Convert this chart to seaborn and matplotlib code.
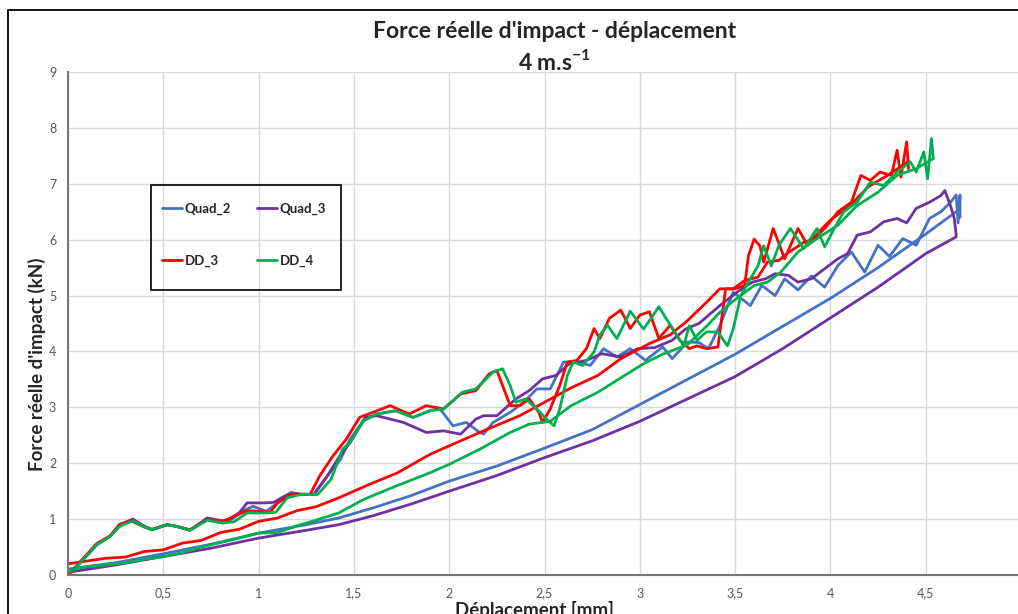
import matplotlib
matplotlib.use("Agg")
import matplotlib.pyplot as plt
import matplotlib.patches as mpatches
from matplotlib.lines import Line2D
import numpy as np
import pandas as pd
import seaborn as sns

# --- DATA ---
SERIES = ["Quad_2", "Quad_3", "DD_3", "DD_4"]
COLORS = {"Quad_2": "#4472C4", "Quad_3": "#7030A0", "DD_3": "#FF0000", "DD_4": "#00B050"}

XTICKS = [0, 0.5, 1, 1.5, 2, 2.5, 3, 3.5, 4, 4.5, 5]
XTICKLABELS = ["0", "0,5", "1", "1,5", "2", "2,5", "3", "3,5", "4", "4,5", "5"]
YTICKS = [0, 1, 2, 3, 4, 5, 6, 7, 8, 9]

# Quad_2 (blue) - loading branch (wavy) and lower branch (smooth)
quad2_up_x = [0, 0.03, 0.07, 0.15, 0.22, 0.27, 0.34, 0.40, 0.44, 0.52, 0.57, 0.64, 0.73, 0.81, 0.86,
              0.92, 0.97, 1.04, 1.10, 1.17, 1.22, 1.29, 1.36, 1.43, 1.48, 1.55, 1.62, 1.72, 1.81, 1.90,
              1.95, 2.02, 2.09, 2.16, 2.18, 2.23, 2.32, 2.39, 2.46, 2.53, 2.60, 2.67, 2.74, 2.81, 2.88,
              2.95, 3.03, 3.12, 3.17, 3.25, 3.31, 3.36, 3.42, 3.49, 3.58, 3.64, 3.71, 3.76, 3.83, 3.90,
              3.97, 4.04, 4.11, 4.18, 4.25, 4.31, 4.38, 4.45, 4.52, 4.58, 4.63, 4.66, 4.67, 4.68, 4.68]
quad2_up_y = [0.10, 0.12, 0.24, 0.54, 0.69, 0.87, 0.99, 0.87, 0.81, 0.90, 0.87, 0.80, 0.99, 0.93, 1.00,
              1.15, 1.23, 1.14, 1.29, 1.47, 1.44, 1.44, 1.77, 2.07, 2.43, 2.76, 2.88, 2.94, 2.82, 2.94,
              2.98, 2.67, 2.73, 2.55, 2.52, 2.73, 2.91, 3.09, 3.33, 3.33, 3.81, 3.81, 3.75, 4.05, 3.90,
              4.05, 3.84, 4.08, 3.87, 4.17, 4.16, 4.05, 4.46, 5.06, 4.82, 5.18, 5.00, 5.30, 5.10, 5.35,
              5.15, 5.54, 5.78, 5.42, 5.90, 5.70, 6.02, 5.90, 6.38, 6.50, 6.67, 6.80, 6.30, 6.80, 6.40]
quad2_dn_x = [0, 0.10, 0.25, 0.50, 0.75, 1.00, 1.25, 1.42, 1.60, 1.80, 2.00, 2.25, 2.50, 2.75, 3.00,
              3.25, 3.50, 3.75, 4.00, 4.25, 4.50, 4.66]
quad2_dn_y = [0.10, 0.15, 0.22, 0.38, 0.55, 0.75, 0.90, 1.02, 1.20, 1.42, 1.68, 1.95, 2.27, 2.60, 3.05,
              3.50, 3.95, 4.45, 4.95, 5.50, 6.10, 6.50]

# Quad_3 (purple)
quad3_up_x = [0, 0.03, 0.07, 0.15, 0.22, 0.27, 0.34, 0.40, 0.44, 0.52, 0.57, 0.64, 0.73, 0.81, 0.85,
              0.90, 0.94, 1.03, 1.08, 1.13, 1.17, 1.22, 1.29, 1.36, 1.42, 1.48, 1.56, 1.62, 1.76, 1.88,
              1.97, 2.06, 2.14, 2.18, 2.25, 2.35, 2.42, 2.49, 2.56, 2.63, 2.72, 2.80, 2.90, 2.99, 3.08,
              3.17, 3.24, 3.31, 3.42, 3.51, 3.59, 3.66, 3.71, 3.78, 3.83, 3.90, 3.97, 4.04, 4.09, 4.14,
              4.21, 4.28, 4.35, 4.40, 4.45, 4.52, 4.58, 4.60, 4.63, 4.65, 4.66]
quad3_up_y = [0.05, 0.10, 0.24, 0.54, 0.69, 0.90, 1.00, 0.87, 0.81, 0.90, 0.87, 0.80, 1.02, 0.97, 1.00,
              1.12, 1.29, 1.29, 1.30, 1.40, 1.47, 1.45, 1.44, 1.77, 2.10, 2.37, 2.82, 2.85, 2.73, 2.55,
              2.58, 2.52, 2.79, 2.85, 2.85, 3.15, 3.30, 3.51, 3.57, 3.78, 3.84, 3.96, 3.90, 4.05, 4.07,
              4.20, 4.40, 4.50, 4.82, 5.06, 5.24, 5.30, 5.39, 5.36, 5.24, 5.30, 5.48, 5.66, 5.75, 6.08,
              6.14, 6.32, 6.38, 6.30, 6.56, 6.67, 6.79, 6.88, 6.61, 6.38, 6.08]
quad3_dn_x = [0, 0.10, 0.25, 0.50, 0.75, 1.00, 1.25, 1.42, 1.60, 1.80, 2.00, 2.25, 2.50, 2.75, 3.00,
              3.25, 3.50, 3.75, 4.00, 4.25, 4.50, 4.66]
quad3_dn_y = [0.05, 0.10, 0.18, 0.33, 0.48, 0.66, 0.80, 0.90, 1.06, 1.27, 1.50, 1.78, 2.10, 2.40, 2.75,
              3.15, 3.55, 4.05, 4.60, 5.15, 5.75, 6.05]

# DD_3 (red)
dd3_up_x = [0, 0.03, 0.07, 0.15, 0.22, 0.27, 0.33, 0.40, 0.44, 0.52, 0.57, 0.64, 0.73, 0.81, 0.87,
            0.94, 1.01, 1.06, 1.10, 1.17, 1.27, 1.32, 1.39, 1.46, 1.53, 1.60, 1.69, 1.79, 1.88, 1.97,
            2.06, 2.14, 2.21, 2.25, 2.28, 2.32, 2.37, 2.42, 2.47, 2.49, 2.53, 2.58, 2.62, 2.67, 2.72,
            2.76, 2.79, 2.84, 2.90, 2.95, 3.00, 3.05, 3.10, 3.16, 3.21, 3.26, 3.30, 3.35, 3.41, 3.45,
            3.50, 3.55, 3.57, 3.60, 3.63, 3.65, 3.70, 3.76, 3.83, 3.88, 3.97, 4.04, 4.11, 4.16, 4.21,
            4.26, 4.32, 4.35, 4.37, 4.40, 4.41]
dd3_up_y = [0.00, 0.10, 0.26, 0.56, 0.70, 0.90, 0.97, 0.86, 0.82, 0.90, 0.87, 0.81, 0.99, 0.95, 1.05,
            1.15, 1.14, 1.12, 1.29, 1.44, 1.44, 1.77, 2.13, 2.43, 2.82, 2.91, 3.03, 2.88, 3.03, 2.97,
            3.24, 3.30, 3.60, 3.66, 3.39, 3.03, 3.03, 3.15, 2.91, 2.73, 2.97, 3.39, 3.81, 3.84, 4.05,
            4.41, 4.23, 4.59, 4.74, 4.41, 4.65, 4.71, 4.23, 4.47, 4.20, 4.05, 4.10, 4.05, 4.08, 5.12,
            5.12, 5.18, 5.71, 6.01, 5.89, 5.60, 6.20, 5.66, 6.20, 5.90, 6.20, 6.50, 6.67, 7.15, 7.06,
            7.21, 7.15, 7.60, 7.12, 7.75, 7.27]
dd3_dn_x = [0, 0.10, 0.20, 0.30, 0.40, 0.50, 0.60, 0.70, 0.80, 0.90, 1.00, 1.10, 1.20, 1.30, 1.42,
            1.58, 1.73, 1.90, 2.00, 2.16, 2.37, 2.50, 2.64, 2.78, 2.90, 3.05, 3.16, 3.25, 3.35, 3.42,
            3.49, 3.55, 3.62, 3.67, 3.73, 3.78, 3.86, 3.90, 4.00, 4.10, 4.20, 4.30, 4.41]
dd3_dn_y = [0.20, 0.25, 0.30, 0.32, 0.42, 0.45, 0.57, 0.62, 0.76, 0.82, 0.96, 1.02, 1.15, 1.22, 1.38,
            1.62, 1.83, 2.16, 2.31, 2.55, 2.85, 3.09, 3.35, 3.57, 3.87, 4.14, 4.30, 4.55, 4.88, 5.12,
            5.12, 5.27, 5.33, 5.60, 5.63, 5.77, 5.95, 6.00, 6.35, 6.60, 6.95, 7.15, 7.40]

# DD_4 (green)
dd4_up_x = [0, 0.03, 0.07, 0.15, 0.22, 0.27, 0.34, 0.40, 0.44, 0.52, 0.57, 0.64, 0.73, 0.81, 0.87,
            0.94, 1.03, 1.09, 1.15, 1.22, 1.31, 1.38, 1.44, 1.48, 1.55, 1.62, 1.72, 1.81, 1.90, 1.97,
            2.07, 2.14, 2.23, 2.28, 2.32, 2.35, 2.40, 2.46, 2.51, 2.55, 2.58, 2.62, 2.65, 2.70, 2.76,
            2.79, 2.83, 2.88, 2.95, 3.02, 3.10, 3.16, 3.23, 3.26, 3.30, 3.35, 3.41, 3.46, 3.49, 3.53,
            3.58, 3.62, 3.65, 3.69, 3.73, 3.79, 3.86, 3.93, 3.97, 4.02, 4.07, 4.14, 4.21, 4.28, 4.35,
            4.42, 4.45, 4.49, 4.51, 4.53, 4.54]
dd4_up_y = [0.05, 0.10, 0.24, 0.54, 0.69, 0.87, 0.97, 0.86, 0.81, 0.90, 0.87, 0.80, 0.98, 0.93, 0.95,
            1.11, 1.11, 1.12, 1.38, 1.44, 1.44, 1.71, 2.25, 2.37, 2.76, 2.88, 2.94, 2.82, 2.94, 2.97,
            3.27, 3.33, 3.63, 3.69, 3.39, 3.09, 3.15, 2.97, 2.79, 2.67, 2.97, 3.57, 3.81, 3.75, 3.99,
            4.29, 4.47, 4.23, 4.72, 4.40, 4.80, 4.47, 4.10, 4.46, 4.20, 4.35, 4.35, 4.10, 4.40, 5.00,
            5.30, 5.53, 5.89, 5.53, 5.90, 6.20, 5.84, 6.20, 5.87, 6.20, 6.50, 6.67, 7.03, 6.97, 7.21,
            7.39, 7.21, 7.57, 7.09, 7.81, 7.45]
dd4_dn_x = [0, 0.10, 0.20, 0.30, 0.40, 0.50, 0.60, 0.70, 0.80, 0.90, 1.00, 1.10, 1.20, 1.30, 1.42,
            1.55, 1.72, 1.90, 2.00, 2.16, 2.32, 2.42, 2.53, 2.64, 2.78, 2.92, 3.02, 3.12, 3.25, 3.35,
            3.42, 3.49, 3.60, 3.67, 3.74, 3.83, 3.93, 4.04, 4.14, 4.25, 4.35, 4.45, 4.54]
dd4_dn_y = [0.08, 0.15, 0.18, 0.22, 0.28, 0.33, 0.40, 0.50, 0.58, 0.66, 0.75, 0.76, 0.88, 0.98, 1.11,
            1.35, 1.59, 1.83, 1.98, 2.25, 2.55, 2.70, 2.75, 3.03, 3.27, 3.57, 3.78, 3.95, 4.12, 4.45,
            4.70, 4.90, 5.18, 5.24, 5.42, 5.78, 6.02, 6.26, 6.61, 6.85, 7.15, 7.27, 7.45]

branches = [
    ("Quad_2", "haut", quad2_up_x, quad2_up_y), ("Quad_2", "bas", quad2_dn_x, quad2_dn_y),
    ("Quad_3", "haut", quad3_up_x, quad3_up_y), ("Quad_3", "bas", quad3_dn_x, quad3_dn_y),
    ("DD_3", "haut", dd3_up_x, dd3_up_y), ("DD_3", "bas", dd3_dn_x, dd3_dn_y),
    ("DD_4", "haut", dd4_up_x, dd4_up_y), ("DD_4", "bas", dd4_dn_x, dd4_dn_y),
]
frames = []
for serie, branche, bx, by in branches:
    frames.append(pd.DataFrame({"x": bx, "y": by, "serie": serie, "branche": serie + "_" + branche}))
df = pd.concat(frames, ignore_index=True)

# --- STYLE ---
sns.set_style("white")
plt.rcParams["font.family"] = ["Lato", "DejaVu Sans"]
plt.rcParams["mathtext.fontset"] = "custom"
plt.rcParams["mathtext.rm"] = "Lato"
plt.rcParams["mathtext.bf"] = "Lato:bold"

AXIS_GREY = "#767676"
TEXT_GREY = "#595959"

fig = plt.figure(figsize=(10.18, 6.14), dpi=100)
ax = fig.add_axes([68 / 1018, 1 - 575 / 614, (1021 - 68) / 1018, (575 - 72) / 614])

sns.lineplot(data=df, x="x", y="y", hue="serie", units="branche", estimator=None, sort=False,
             palette=COLORS, hue_order=SERIES, linewidth=2.0, legend=False, ax=ax)

ax.set_xlim(0, 5)
ax.set_ylim(0, 9)
ax.set_xticks(XTICKS)
ax.set_xticklabels(XTICKLABELS)
ax.set_yticks(YTICKS)
ax.grid(True, color="#d9d9d9", linewidth=1.0)
ax.set_axisbelow(True)
for side in ["top", "right"]:
    ax.spines[side].set_visible(False)
for side in ["left", "bottom"]:
    ax.spines[side].set_color(AXIS_GREY)
    ax.spines[side].set_linewidth(1.5)
ax.tick_params(axis="y", direction="inout", length=7, width=1, color=AXIS_GREY,
               labelsize=9, labelcolor=TEXT_GREY, pad=5)
ax.tick_params(axis="x", length=0, labelsize=9, labelcolor=TEXT_GREY, pad=9)

ax.set_xlabel("Déplacement [mm]", fontsize=13.5, fontweight="bold")
ax.set_ylabel("Force réelle d'impact (kN)", fontsize=13.5, fontweight="bold")
ax.xaxis.set_label_coords((534 - 68) / 953, -(610 - 575) / 503)
ax.yaxis.set_label_coords(-(68 - 37) / 953, (575 - 364) / 503)
ax.xaxis.label.set_va("center")
ax.yaxis.label.set_va("center")

fig.text(0.545, 1 - 31 / 614, "Force réelle d'impact - déplacement", ha="center", va="center",
         fontsize=16.5, fontweight="bold")
fig.text(0.545, 1 - 61 / 614, r"4 m.s$^{\mathbf{-1}}$", ha="center", va="center",
         fontsize=16.5, fontweight="bold")

# legend (frame drawn separately); column-wise fill gives rows Quad_2/Quad_3 and DD_3/DD_4
leg_order = ["Quad_2", "DD_3", "Quad_3", "DD_4"]
handles = [Line2D([0], [0], color=COLORS[s], lw=2) for s in leg_order]
leg = ax.legend(handles, leg_order, ncol=2,
                loc="upper left", bbox_to_anchor=(162 / 1018, 1 - 203 / 614),
                bbox_transform=fig.transFigure, frameon=False, borderaxespad=0, borderpad=0,
                handlelength=1.5, handletextpad=0.2, columnspacing=2.0, labelspacing=3.0,
                prop={"weight": "bold", "size": 9.5})
fig.add_artist(mpatches.Rectangle((151 / 1018, 1 - 290 / 614), 190 / 1018, 105 / 614,
                                  transform=fig.transFigure, fill=False, edgecolor="black", lw=1.2))

# outer chart border
fig.add_artist(mpatches.Rectangle((8 / 1018, -0.05), 1.1, 1 - 10 / 614 + 0.05,
                                  transform=fig.transFigure, fill=False, edgecolor="black", lw=1.3))

fig.savefig("out.png", dpi=100)
